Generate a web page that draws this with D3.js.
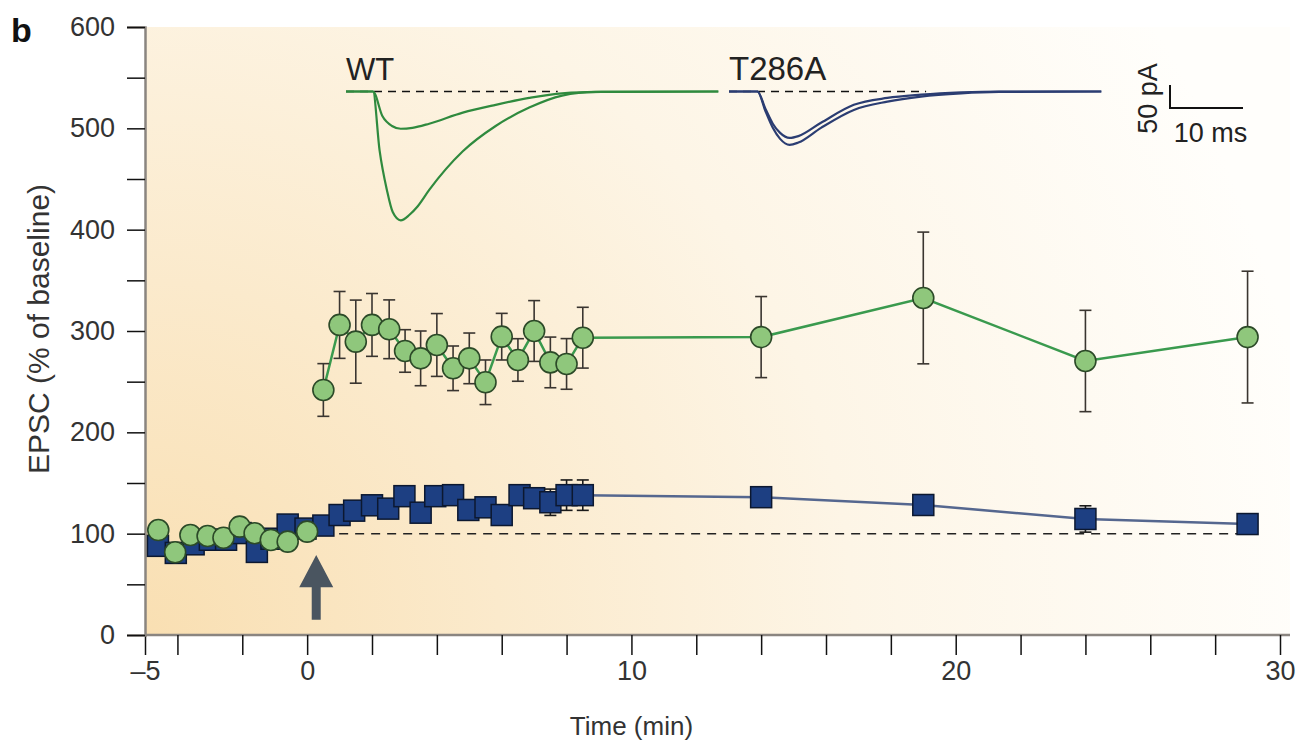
<!DOCTYPE html>
<html>
<head>
<meta charset="utf-8">
<script src="https://cdn.jsdelivr.net/npm/d3@7"></script>
<style>
  body { margin: 0; background: #fff; }
  svg { display: block; font-family: "Liberation Sans", Arial, sans-serif; }
</style>
</head>
<body>
<svg id="chart" width="1303" height="747"></svg>
<script>
// DATA
// WT (green circles)
var wtTime = [-4.59, -4.07, -3.6, -3.07, -2.58, -2.08, -1.62, -1.12, -0.6, 0,
  0.5, 1.0, 1.5, 2.0, 2.53, 3.02, 3.5, 4.0, 4.5, 5.0, 5.5, 6.0, 6.5, 7.0, 7.5, 8.0, 8.5,
  14, 19, 24, 29];
var wtValue = [103.6, 81.6, 98.7, 97.7, 96.0, 106.9, 100.4, 93.8, 92.1, 102.0,
  241.8, 306, 289.5, 306, 301.7, 280.3, 273, 286.2, 263.2, 273, 249.4, 294.4, 271.4, 300, 269, 267.5, 293.4,
  294, 332.6, 270.4, 294];
var wtError = [0, 0, 0, 0, 0, 0, 0, 0, 0, 0,
  26, 33, 41, 31, 29, 21, 27, 31, 22, 25, 22, 23, 21, 30, 25, 25, 30,
  40, 65, 50, 65];

// T286A (blue squares)
var t286Time = [-4.6, -4.05, -3.5, -3.0, -2.5, -2.05, -1.55, -1.1, -0.6, -0.05,
  0.5, 1.0, 1.45, 2.0, 2.5, 3.0, 3.5, 3.95, 4.5, 4.97, 5.5, 6.0, 6.55, 7.0, 7.5, 8.0, 8.5,
  14, 19, 24, 29];
var t286Value = [88, 81, 89.5, 94, 94, 100.6, 82, 95, 109, 105,
  108, 118.4, 122.7, 128, 124.7, 137, 120.7, 137, 138, 123.4, 126, 118.4, 138, 135, 131, 138, 138,
  136, 128.3, 114.5, 109.5];
var t286Error = [0, 0, 0, 0, 0, 0, 0, 0, 0, 0,
  5, 5, 5, 5, 5, 5, 5, 5, 5, 5, 5, 5, 5, 5, 13, 15, 15,
  6, 6, 13, 6];

// example EPSC traces (ms, pA)
var wtSmallTrace = [[0, 0], [3.7, 0], [5.0, -54], [6.3, -75], [7.5, -81], [9.1, -79], [11.4, -70],
  [16, -46], [20.5, -29], [25.1, -14], [29.6, -4], [35, -1], [51, 0]];
var wtLargeTrace = [[0, 0], [3.7, 0], [4.6, -128], [5.6, -214], [6.4, -262], [7.5, -280], [8.7, -268],
  [9.8, -250], [11.4, -214], [16, -130], [20.5, -75], [25.1, -35], [29.6, -9], [34.2, -1], [51, 0]];
var t286OuterTrace = [[0, 0], [3.9, 0], [5.0, -43], [6.0, -79], [7.0, -103], [8.3, -116], [9.5, -111],
  [12.6, -79], [17.1, -40], [21.7, -22], [26.3, -11], [31.8, -4], [37, -1], [51, 0]];
var t286InnerTrace = [[0, 0], [3.9, 0], [5.0, -38], [6.0, -70], [7.0, -90], [8.3, -101], [9.5, -97],
  [12.6, -68], [17.1, -29], [21.7, -14], [26.3, -7], [31.8, -2], [37, 0], [51, 0]];

var xTicks = [-5, -4, -2, 0, 2, 4, 6, 8, 10, 12, 14, 16, 18, 20, 22, 24, 26, 28, 30];
var xLabels = [-5, 0, 10, 20, 30];
var yTicks = [0, 50, 100, 150, 200, 250, 300, 350, 400, 450, 500, 550, 600];
var yLabels = [0, 100, 200, 300, 400, 500, 600];

var svg = d3.select("#chart");

// SCALES
var x = d3.scaleLinear().domain([-5, 30]).range([145, 1280]);
var y = d3.scaleLinear().domain([0, 600]).range([635, 27]);

// BACKGROUND
var defs = svg.append("defs");
var grad = defs.append("radialGradient")
  .attr("id", "bg")
  .attr("gradientUnits", "userSpaceOnUse")
  .attr("cx", 145).attr("cy", 635).attr("r", 1180);
grad.append("stop").attr("offset", "0").attr("stop-color", "#f9dfb2");
grad.append("stop").attr("offset", "0.3").attr("stop-color", "#fbeacc");
grad.append("stop").attr("offset", "0.6").attr("stop-color", "#fdf5e6");
grad.append("stop").attr("offset", "1").attr("stop-color", "#fffefb");

svg.append("rect")
  .attr("x", x(-5)).attr("y", y(600))
  .attr("width", 1290 - x(-5)).attr("height", y(0) - y(600))
  .attr("fill", "url(#bg)");

// AXES
var xAxis = d3.axisBottom(x)
  .tickValues(xTicks)
  .tickSize(20)
  .tickPadding(6)
  .tickFormat(function (d) { return xLabels.indexOf(d) >= 0 ? (d < 0 ? "\u2013" + Math.abs(d) : d) : ""; });
var gx = svg.append("g")
  .attr("transform", "translate(0," + y(0) + ")")
  .call(xAxis);

var yAxis = d3.axisLeft(y)
  .tickValues(yTicks)
  .tickSize(18)
  .tickPadding(12)
  .tickFormat(function (d) { return yLabels.indexOf(d) >= 0 ? d : ""; });
var gy = svg.append("g")
  .attr("transform", "translate(" + x(-5) + ",0)")
  .call(yAxis);

[gx, gy].forEach(function (g) {
  g.select(".domain").attr("stroke", "#8a8580").attr("stroke-width", 2.5);
  g.selectAll(".tick line").attr("stroke", "#111").attr("stroke-width", 1.5);
  g.selectAll(".tick text").attr("font-size", 27).attr("fill", "#333")
    .attr("font-family", "Liberation Sans, Arial, sans-serif");
});
gx.select(".domain").attr("d", "M" + x(-5) + ",0H1290");

// axis labels
svg.append("text")
  .attr("x", x(10)).attr("y", 735)
  .attr("text-anchor", "middle")
  .attr("font-size", 26).attr("fill", "#333")
  .text("Time (min)");

svg.append("text")
  .attr("transform", "translate(49," + (y(300) - 2) + ") rotate(-90)")
  .attr("text-anchor", "middle")
  .attr("font-size", 30).attr("fill", "#333")
  .text("EPSC (% of baseline)");

svg.append("text")
  .attr("x", 11).attr("y", 42)
  .attr("font-size", 34).attr("font-weight", "bold").attr("fill", "#111")
  .text("b");

// baseline 100% dashed line
svg.append("line")
  .attr("x1", x(0)).attr("x2", x(29))
  .attr("y1", y(100)).attr("y2", y(100))
  .attr("stroke", "#222").attr("stroke-width", 1.5)
  .attr("stroke-dasharray", "9,7");

// induction arrow
var ax = x(0.28);
svg.append("path")
  .attr("d", "M" + ax + "," + y(79) +
    "L" + (ax + 17) + "," + y(47) +
    "L" + (ax + 4.5) + "," + y(47) +
    "L" + (ax + 4.5) + "," + y(15) +
    "L" + (ax - 4.5) + "," + y(15) +
    "L" + (ax - 4.5) + "," + y(47) +
    "L" + (ax - 17) + "," + y(47) + "Z")
  .attr("fill", "#4a5560");

// helper to zip
function zip(t, v, e) {
  return t.map(function (d, i) { return { t: d, v: v[i], e: e[i] }; });
}
var wt = zip(wtTime, wtValue, wtError);
var t286 = zip(t286Time, t286Value, t286Error);

var line = d3.line()
  .x(function (d) { return x(d.t); })
  .y(function (d) { return y(d.v); });

function errorBars(data, color, cap) {
  var g = svg.append("g");
  var eb = g.selectAll("g").data(data.filter(function (d) { return d.e > 0; }))
    .enter().append("g");
  eb.append("line")
    .attr("x1", function (d) { return x(d.t); })
    .attr("x2", function (d) { return x(d.t); })
    .attr("y1", function (d) { return y(d.v + d.e); })
    .attr("y2", function (d) { return y(d.v - d.e); })
    .attr("stroke", color).attr("stroke-width", 1.6);
  [1, -1].forEach(function (s) {
    eb.append("line")
      .attr("x1", function (d) { return x(d.t) - cap; })
      .attr("x2", function (d) { return x(d.t) + cap; })
      .attr("y1", function (d) { return y(d.v + s * d.e); })
      .attr("y2", function (d) { return y(d.v + s * d.e); })
      .attr("stroke", color).attr("stroke-width", 1.6);
  });
}

// T286A
svg.append("path")
  .datum(t286)
  .attr("d", line)
  .attr("fill", "none")
  .attr("stroke", "#55678f").attr("stroke-width", 2.5);
errorBars(t286, "#1a1a1a", 6);
var sq = 21;
svg.append("g").selectAll("rect")
  .data(t286)
  .enter().append("rect")
  .attr("x", function (d) { return x(d.t) - sq / 2; })
  .attr("y", function (d) { return y(d.v) - sq / 2; })
  .attr("width", sq).attr("height", sq)
  .attr("fill", "#1d3f82")
  .attr("stroke", "#0c1830").attr("stroke-width", 1.5);

// WT
svg.append("path")
  .datum(wt.filter(function (d) { return d.t > 0.2; }))
  .attr("d", line)
  .attr("fill", "none")
  .attr("stroke", "#3a9a4e").attr("stroke-width", 2.5);
errorBars(wt, "#3a3530", 6);
svg.append("g").selectAll("circle")
  .data(wt)
  .enter().append("circle")
  .attr("cx", function (d) { return x(d.t); })
  .attr("cy", function (d) { return y(d.v); })
  .attr("r", 10.5)
  .attr("fill", "#8fc77c")
  .attr("stroke", "#2c4a28").attr("stroke-width", 1.6);

// EXAMPLE TRACES
var tx = d3.scaleLinear().domain([0, 10]).range([0, 73]);
var ty = d3.scaleLinear().domain([0, -50]).range([0, 23]);
var traceLine = d3.line()
  .x(function (d) { return tx(d[0]); })
  .y(function (d) { return ty(d[1]); })
  .curve(d3.curveMonotoneX);
var baseY = 91.5;

function drawTraces(originX, traces, color, dashMs, label, labelSize) {
  var g = svg.append("g").attr("transform", "translate(" + originX + "," + baseY + ")");
  g.append("line")
    .attr("x1", tx(0)).attr("x2", tx(dashMs))
    .attr("y1", 0).attr("y2", 0)
    .attr("stroke", "#111").attr("stroke-width", 1.5)
    .attr("stroke-dasharray", "8,6");
  traces.forEach(function (tr) {
    g.append("path")
      .datum(tr)
      .attr("d", traceLine)
      .attr("fill", "none")
      .attr("stroke", color).attr("stroke-width", 2.2);
  });
  g.append("text")
    .attr("x", 0).attr("y", -12)
    .attr("font-size", labelSize).attr("fill", "#222")
    .text(label);
}
drawTraces(346, [wtSmallTrace, wtLargeTrace], "#2f8a3e", 29, "WT", 31);
drawTraces(729, [t286InnerTrace, t286OuterTrace], "#2b3d72", 27, "T286A", 33);

// scale bar
var sb = svg.append("g").attr("transform", "translate(1170,85)");
sb.append("path")
  .attr("d", "M0,0V" + ty(-50) + "H" + tx(10))
  .attr("fill", "none").attr("stroke", "#111").attr("stroke-width", 2);
sb.append("text")
  .attr("transform", "translate(-13," + (ty(-50) / 2 + 2) + ") rotate(-90)")
  .attr("text-anchor", "middle")
  .attr("font-size", 27).attr("fill", "#222")
  .text("50 pA");
sb.append("text")
  .attr("x", tx(5) + 4).attr("y", 57)
  .attr("text-anchor", "middle")
  .attr("font-size", 27).attr("fill", "#222")
  .text("10 ms");
</script>
</body>
</html>
